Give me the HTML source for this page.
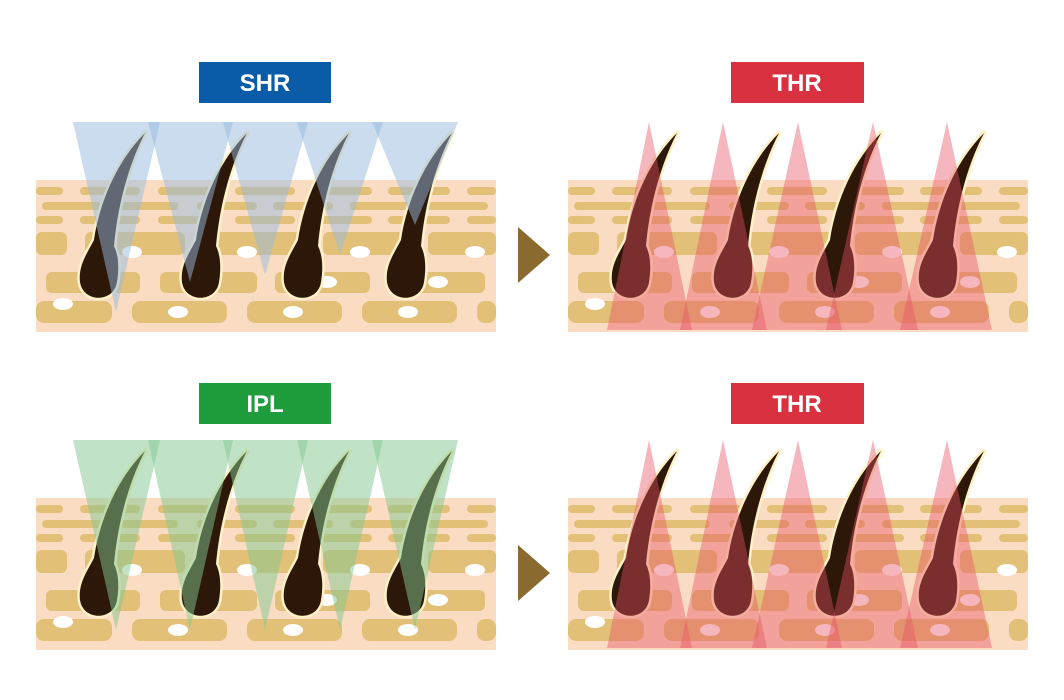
<!DOCTYPE html>
<html><head><meta charset="utf-8"><style>
html,body{margin:0;padding:0;background:#fff;width:1064px;height:700px;overflow:hidden}
svg{display:block}
text{font-family:"Liberation Sans",sans-serif;font-size:24px;font-weight:bold;fill:#fff;text-anchor:middle}
</style></head><body>
<svg width="1064" height="700" viewBox="0 0 1064 700" xmlns="http://www.w3.org/2000/svg">
<defs>
<g id="skin">
  <rect x="36" y="180" width="460" height="152" fill="#fadcc3"/>
  <g fill="#e3c077">
    <rect x="36" y="187" width="27" height="8" rx="4"/><rect x="80" y="187" width="60" height="8" rx="4"/><rect x="158" y="187" width="59" height="8" rx="4"/><rect x="235" y="187" width="60" height="8" rx="4"/><rect x="312" y="187" width="60" height="8" rx="4"/><rect x="388" y="187" width="62" height="8" rx="4"/><rect x="467" y="187" width="29" height="8" rx="4"/>
    <rect x="42" y="202" width="60" height="8" rx="4"/><rect x="120" y="202" width="58" height="8" rx="4"/><rect x="197" y="202" width="60" height="8" rx="4"/><rect x="273" y="202" width="60" height="8" rx="4"/><rect x="350" y="202" width="60" height="8" rx="4"/><rect x="427" y="202" width="61" height="8" rx="4"/>
    <rect x="36" y="216" width="27" height="8" rx="4"/><rect x="80" y="216" width="60" height="8" rx="4"/><rect x="158" y="216" width="59" height="8" rx="4"/><rect x="235" y="216" width="60" height="8" rx="4"/><rect x="312" y="216" width="60" height="8" rx="4"/><rect x="388" y="216" width="62" height="8" rx="4"/><rect x="467" y="216" width="29" height="8" rx="4"/>
    <rect x="36" y="232" width="31" height="23" rx="6"/><rect x="85" y="232" width="100" height="23" rx="6"/><rect x="200" y="232" width="105" height="23" rx="6"/><rect x="323" y="232" width="87" height="23" rx="6"/><rect x="428" y="232" width="68" height="23" rx="6"/>
    <rect x="46" y="272" width="94" height="21" rx="6"/><rect x="160" y="272" width="97" height="21" rx="6"/><rect x="275" y="272" width="95" height="21" rx="6"/><rect x="390" y="272" width="95" height="21" rx="6"/>
    <rect x="36" y="301" width="76" height="22" rx="8"/><rect x="132" y="301" width="95" height="22" rx="8"/><rect x="247" y="301" width="95" height="22" rx="8"/><rect x="362" y="301" width="95" height="22" rx="8"/><rect x="477" y="301" width="19" height="22" rx="8"/>
  </g>
  <g fill="#fff">
    <ellipse cx="132" cy="252" rx="10" ry="6"/><ellipse cx="247" cy="252" rx="10" ry="6"/><ellipse cx="360" cy="252" rx="10" ry="6"/><ellipse cx="475" cy="252" rx="10" ry="6"/>
    <ellipse cx="327" cy="282" rx="10" ry="6"/><ellipse cx="438" cy="282" rx="10" ry="6"/>
    <ellipse cx="63" cy="304" rx="10" ry="6"/><ellipse cx="178" cy="312" rx="10" ry="6"/><ellipse cx="293" cy="312" rx="10" ry="6"/><ellipse cx="408" cy="312" rx="10" ry="6"/>
  </g>
</g>
<path id="hp" d="M80,282 C78,265 88,252 94,240 C100,200 118,160 145,133 C126,170 117,212 114,246 C119,256 119,270 117,282 C114,303 83,303 80,282 Z"/>
<g id="hair">
  <use href="#hp" fill="#fdf1c8" stroke="#fdf1c8" stroke-width="5" stroke-linejoin="round"/>
  <use href="#hp" fill="#2c1708"/>
</g>
<g id="hairs">
  <use href="#hair"/><use href="#hair" x="102"/><use href="#hair" x="204"/><use href="#hair" x="307"/>
</g>
<g id="red" fill="rgba(232,80,100,0.42)">
  <polygon points="649,122 607,330 692,330"/>
  <polygon points="723,122 680,330 767,330"/>
  <polygon points="798,122 752,330 842,330"/>
  <polygon points="873,122 826,330 918,330"/>
  <polygon points="947,122 900,330 992,330"/>
</g>
</defs>

<use href="#skin"/><use href="#hairs"/>
<g fill="rgba(150,185,222,0.5)">
  <polygon points="73,122 160,122 116,312"/>
  <polygon points="148,122 233,122 190,282"/>
  <polygon points="223,122 308,122 265,275"/>
  <polygon points="297,122 383,122 340,255"/>
  <polygon points="372,122 458,122 415,225"/>
</g>
<use href="#skin" x="532"/><use href="#hairs" x="532"/><use href="#red"/>

<use href="#skin" y="318"/><use href="#hairs" y="318"/>
<g fill="rgba(130,200,145,0.5)">
  <polygon points="73,440 160,440 116,630"/>
  <polygon points="148,440 233,440 190,630"/>
  <polygon points="223,440 308,440 265,630"/>
  <polygon points="297,440 383,440 340,630"/>
  <polygon points="372,440 458,440 415,630"/>
</g>
<use href="#skin" x="532" y="318"/><use href="#hairs" x="532" y="318"/><use href="#red" y="318"/>

<polygon points="518,227 550,255 518,283" fill="#8a6a2e"/>
<polygon points="518,545 550,573 518,601" fill="#8a6a2e"/>

<rect x="199" y="62" width="132" height="41" fill="#0b5ca8"/><text x="265" y="91">SHR</text>
<rect x="731" y="62" width="133" height="41" fill="#d9313f"/><text x="797" y="91">THR</text>
<rect x="199" y="383" width="132" height="41" fill="#1f9d3c"/><text x="265" y="412">IPL</text>
<rect x="731" y="383" width="133" height="41" fill="#d9313f"/><text x="797" y="412">THR</text>
</svg>
</body></html>
